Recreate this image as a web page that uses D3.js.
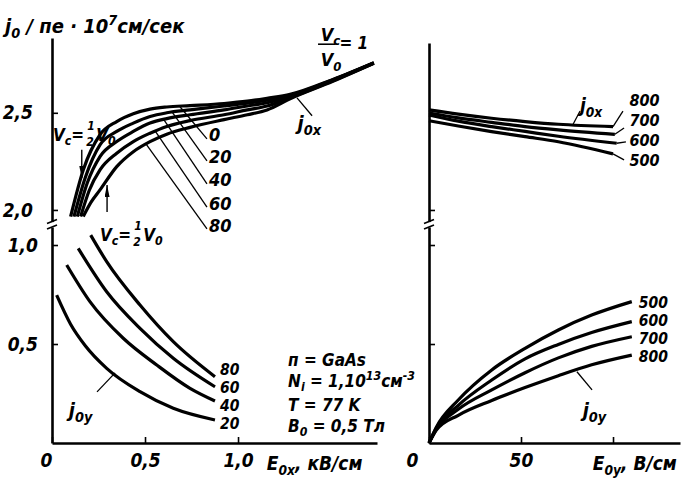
<!DOCTYPE html>
<html>
<head>
<meta charset="utf-8">
<script src="https://cdn.jsdelivr.net/npm/d3@7"></script>
<style>
  body { margin: 0; background: #fff; }
  svg text { font-family: "Liberation Sans Narrow", "DejaVu Sans Condensed", "Liberation Sans", sans-serif;
             font-weight: bold; font-style: italic; fill: #000; }
</style>
</head>
<body>
<svg id="fig" width="683" height="495"></svg>
<script>
"use strict";

// left panel, top: j0x against E0x (kV/cm), one curve per Vc/V0 (%)
const vcLabels = ["0", "20", "40", "60", "80"];
const jx0  = [[0.10,1.966],[0.168,2.206],[0.258,2.387],[0.348,2.455],[0.437,2.495],[0.527,2.519],[0.617,2.530],[0.742,2.537],[0.925,2.548],[1.05,2.560],[1.156,2.575],[1.28,2.595],[1.51,2.672],[1.73,2.758]];
const jx20 = [[0.118,1.966],[0.18,2.17],[0.258,2.335],[0.348,2.404],[0.437,2.447],[0.527,2.481],[0.617,2.500],[0.742,2.515],[0.925,2.535],[1.05,2.550],[1.156,2.565],[1.28,2.590],[1.51,2.670],[1.73,2.757]];
const jx40 = [[0.136,1.966],[0.19,2.14],[0.258,2.275],[0.348,2.352],[0.437,2.404],[0.527,2.447],[0.617,2.470],[0.742,2.490],[0.925,2.515],[1.05,2.535],[1.156,2.552],[1.28,2.583],[1.51,2.668],[1.73,2.756]];
const jx60 = [[0.154,1.966],[0.20,2.10],[0.258,2.206],[0.348,2.292],[0.437,2.352],[0.527,2.395],[0.617,2.430],[0.742,2.460],[0.925,2.490],[1.05,2.515],[1.156,2.535],[1.28,2.578],[1.51,2.665],[1.73,2.755]];
const jx80 = [[0.168,1.966],[0.21,2.04],[0.258,2.103],[0.348,2.223],[0.437,2.300],[0.527,2.352],[0.617,2.390],[0.742,2.425],[0.925,2.465],[1.05,2.490],[1.156,2.515],[1.28,2.572],[1.51,2.662],[1.73,2.755]];

// left panel, bottom: j0y against E0x
const jyLabels = ["20", "40", "60", "80"];
const jy20 = [[0.025,0.747],[0.10,0.600],[0.18,0.490],[0.294,0.377],[0.473,0.259],[0.652,0.175],[0.876,0.116]];
const jy40 = [[0.079,0.899],[0.204,0.714],[0.383,0.529],[0.563,0.394],[0.742,0.276],[0.876,0.212]];
const jy60 = [[0.141,0.983],[0.294,0.764],[0.473,0.579],[0.652,0.428],[0.876,0.284]];
const jy80 = [[0.208,1.05],[0.294,0.916],[0.473,0.697],[0.652,0.512],[0.876,0.335]];

// right panel: against E0y (V/cm), one curve per parameter value
const eyLabels = ["800", "700", "600", "500"];
const jxB800 = [[0,2.516],[15.9,2.494],[34,2.473],[52.2,2.456],[70.3,2.442],[100,2.430]];
const jxB700 = [[0,2.500],[15.9,2.475],[34,2.452],[52.2,2.430],[70.3,2.413],[101,2.390]];
const jxB600 = [[0,2.490],[15.9,2.458],[34,2.430],[52.2,2.405],[70.3,2.380],[102,2.344]];
const jxB500 = [[0,2.460],[15.9,2.433],[34,2.404],[52.2,2.378],[70.3,2.352],[100,2.289]];

const jyLabelsB = ["500", "600", "700", "800"];
const jyB500 = [[0,0],[4,0.080],[15.9,0.217],[34.1,0.369],[52.2,0.478],[70.3,0.571],[88.4,0.646],[110.2,0.714]];
const jyB600 = [[0,0],[4,0.075],[15.9,0.190],[34.1,0.318],[52.2,0.425],[70.3,0.498],[88.4,0.558],[110.2,0.613]];
const jyB700 = [[0,0],[4,0.070],[15.9,0.170],[34.1,0.268],[52.2,0.355],[70.3,0.430],[88.4,0.488],[110.2,0.537]];
const jyB800 = [[0,0],[4,0.065],[15.9,0.140],[34.1,0.215],[52.2,0.280],[70.3,0.340],[88.4,0.395],[110.2,0.444]];

// tick values
const xTicksL = [0, 0.5, 1.0];
const yTicksTop = [2.0, 2.5];
const yTicksBottom = [0.5, 1.0];
const xTicksR = [0, 50, 100];
const xLabelsR = ["0", "50", ""];

const svg = d3.select("#fig");

const xL = d3.scaleLinear().domain([0, 1.747]).range([52, 377]);
const yLU = d3.scaleLinear().domain([1.94, 2.885]).range([221.6, 38]);
const yLL = d3.scaleLinear().domain([0, 1.091]).range([443, 227]);
const xR = d3.scaleLinear().domain([0, 136.4]).range([429, 680]);
const yRU = d3.scaleLinear().domain([1.94, 2.861]).range([221.6, 43]);
const yRL = yLL;

const comma = d => d3.format(".1f")(d).replace(".", ",");

function styleAxis(g)
{
    g.attr("font-size", 19).attr("font-family", null);
    g.select(".domain").attr("stroke-width", 2.6);
    g.selectAll(".tick line").attr("stroke-width", 1.6);
    return g;
}

function yAxis(scale, x, ticks, labels, pad)
{
    const ax = d3.axisLeft(scale).tickValues(ticks).tickSize(-6).tickSizeOuter(0)
                 .tickPadding(pad).tickFormat(labels ? comma : () => "");
    return styleAxis(svg.append("g").attr("transform", "translate(" + x + ",0)").call(ax));
}

yAxis(yLU, xL(0), yTicksTop, true, 19);
yAxis(yLL, xL(0), yTicksBottom, true, 14);
yAxis(yRU, xR(0), [2.0], false, 0);
yAxis(yRL, xR(0), yTicksBottom, false, 0);

const gxL = styleAxis(svg.append("g").attr("transform", "translate(0," + yLL(0) + ")")
    .call(d3.axisBottom(xL).tickValues(xTicksL).tickSize(-6).tickSizeOuter(0).tickPadding(11)
          .tickFormat(d => d === 0 ? "0" : comma(d))));
gxL.selectAll(".tick text").filter(d => d === 0).attr("dx", -6);

const gxR = styleAxis(svg.append("g").attr("transform", "translate(0," + yRL(0) + ")")
    .call(d3.axisBottom(xR).tickValues(xTicksR).tickSize(-6).tickSizeOuter(0).tickPadding(11)
          .tickFormat((d, i) => xLabelsR[i])));
gxR.selectAll(".tick text").filter(d => d === 0).attr("dx", -17);

// axis breaks
[[xL(0), yLU.range()[0]], [xL(0), yLL.range()[1]], [xR(0), yRU.range()[0]], [xR(0), yRL.range()[1]]]
  .forEach(([x, y]) => {
      svg.append("line").attr("x1", x - 5).attr("y1", y + 2).attr("x2", x + 5).attr("y2", y - 2)
         .attr("stroke", "#000").attr("stroke-width", 1.6);
  });

function curves(list, xs, ys)
{
    const line = d3.line().x(d => xs(d[0])).y(d => ys(d[1])).curve(d3.curveMonotoneX);
    svg.append("g").attr("fill", "none").attr("stroke", "#000").attr("stroke-width", 3.2)
       .selectAll("path").data(list).join("path").attr("d", line);
}

curves([jx0, jx20, jx40, jx60, jx80], xL, yLU);
curves([jy20, jy40, jy60, jy80], xL, yLL);
curves([jxB800, jxB700, jxB600, jxB500], xR, yRU);
curves([jyB500, jyB600, jyB700, jyB800], xR, yRL);

function leader(xs, ys, a, b)
{
    svg.append("line").attr("x1", xs(a[0])).attr("y1", ys(a[1])).attr("x2", xs(b[0])).attr("y2", ys(b[1]))
       .attr("stroke", "#000").attr("stroke-width", 1.3);
}

function rich(x, y, parts, size)
{
    const t = svg.append("text").attr("x", x).attr("y", y).attr("font-size", size);
    let shift = 0;
    for (const [s, k] of parts)
    {
        const target = k === "sub" ? 0.25 * size : k === "sup" ? -0.42 * size : 0;
        const sp = t.append("tspan").attr("dy", target - shift).text(s);
        if (k) sp.attr("font-size", size * 0.72);
        shift = target;
    }
    return t;
}

// labels of the upper-left curves with their leaders
const upLeaderCurve = [[0.688,2.531],[0.645,2.505],[0.602,2.464],[0.554,2.407],[0.505,2.340]];
const upLeaderEnd   = [[0.833,2.366],[0.833,2.253],[0.833,2.134],[0.833,2.015],[0.833,1.902]];
const upLabelY      = [2.387, 2.273, 2.155, 2.031, 1.918];
vcLabels.forEach((s, i) => {
    leader(xL, yLU, upLeaderCurve[i], upLeaderEnd[i]);
    svg.append("text").attr("x", xL(0.844)).attr("y", yLU(upLabelY[i])).attr("dy", "0.36em")
       .attr("font-size", 18).text(s);
});

// labels of the lower-left curves
const lowLabelY = [0.101, 0.192, 0.283, 0.374];
jyLabels.forEach((s, i) => {
    svg.append("text").attr("x", xL(0.903)).attr("y", yLL(lowLabelY[i])).attr("dy", "0.36em")
       .attr("font-size", 15.5).text(s);
});

// labels of the upper-right curves
const ruEnd   = [[100,2.430],[101,2.390],[102,2.344],[100,2.289]];
const ruHook  = [[105.4,2.51],[106,2.423],[107,2.351],[106,2.258]];
const ruLabel = [2.567, 2.464, 2.361, 2.258];
eyLabels.forEach((s, i) => {
    leader(xR, yRU, ruEnd[i], ruHook[i]);
    svg.append("text").attr("x", xR(109)).attr("y", yRU(ruLabel[i])).attr("dy", "0.36em")
       .attr("font-size", 16).text(s);
});

// labels of the lower-right curves
const rlLabel = [0.712, 0.621, 0.530, 0.439];
jyLabelsB.forEach((s, i) => {
    svg.append("text").attr("x", xR(114)).attr("y", yRL(rlLabel[i])).attr("dy", "0.36em")
       .attr("font-size", 15.5).text(s);
});

// j0x / j0y tags
leader(xL, yLU, [1.317, 2.577], [1.398, 2.485]);
rich(xL(1.32), yLU(2.41), [["j", null], ["0x", "sub"]], 20);
leader(xL, yLL, [0.242, 0.258], [0.339, 0.354]);
rich(xL(0.09), yLL(0.13), [["j", null], ["0y", "sub"]], 20);
leader(xR, yRU, [82.1, 2.51], [78.3, 2.442]);
rich(xR(82), yRU(2.505), [["j", null], ["0x", "sub"]], 19);
leader(xR, yRL, [88.6, 0.268], [80.4, 0.36]);
rich(xR(83.5), yRL(0.13), [["j", null], ["0y", "sub"]], 20);

// arrows marking Vc = 1/2 V0
svg.append("defs").append("marker").attr("id", "ah").attr("viewBox", "0 0 12 5")
   .attr("refX", 12).attr("refY", 2.5).attr("markerWidth", 12).attr("markerHeight", 5)
   .attr("markerUnits", "userSpaceOnUse").attr("orient", "auto")
   .append("path").attr("d", "M0,0 L12,2.5 L0,5 z");
[[0.16, 2.31, 2.165], [0.296, 1.99, 2.129]].forEach(([x, a, b]) => {
    svg.append("line").attr("x1", xL(x)).attr("y1", yLU(a)).attr("x2", xL(x)).attr("y2", yLU(b))
       .attr("stroke", "#000").attr("stroke-width", 1.4).attr("marker-end", "url(#ah)");
});

function vcHalf(x, y)
{
    const t = rich(x, y, [["V", null], ["c", "sub"], ["=", null]], 17);
    const w = t.node().getComputedTextLength() + 2;
    svg.append("text").attr("x", x + w + 1).attr("y", y - 11).attr("font-size", 12).text("1");
    svg.append("text").attr("x", x + w).attr("y", y + 5).attr("font-size", 12).text("2");
    rich(x + w + 10, y, [["V", null], ["0", "sub"]], 17);
}
vcHalf(xL(0.005), yLU(2.356));
vcHalf(xL(0.258), yLL(1.02));

// Vc / V0 = 1 at the end of the bundle
rich(xL(1.445), yLU(2.87), [["V", null], ["c", "sub"]], 18);
svg.append("line").attr("x1", xL(1.43)).attr("x2", xL(1.525)).attr("y1", yLU(2.853)).attr("y2", yLU(2.853))
   .attr("stroke", "#000").attr("stroke-width", 1.6);
rich(xL(1.445), yLU(2.74), [["V", null], ["0", "sub"]], 18);
svg.append("text").attr("x", xL(1.545)).attr("y", yLU(2.828)).attr("font-size", 17).text("= 1");

// axis titles
rich(5, 33, [["j", null], ["0", "sub"], [" / пе · 10", null], ["7", "sup"], ["см/сек", null]], 20);
rich(xL(1.155), yLL(0) + 27, [["E", null], ["0x", "sub"], [", кВ/см", null]], 19);
rich(xR(89), yRL(0) + 27, [["E", null], ["0y", "sub"], [", В/см", null]], 19);

// conditions
const px = xL(1.269);
rich(px, yLL(0.389), [["п = GaAs", null]], 17);
rich(px, yLL(0.283), [["N", null], ["i", "sub"], [" = 1,10", null], ["13", "sup"], ["см", null], ["-3", "sup"]], 17);
rich(px, yLL(0.162), [["T = 77 K", null]], 17);
rich(px, yLL(0.0556), [["B", null], ["0", "sub"], [" = 0,5 Тл", null]], 17);
</script>
</body>
</html>
